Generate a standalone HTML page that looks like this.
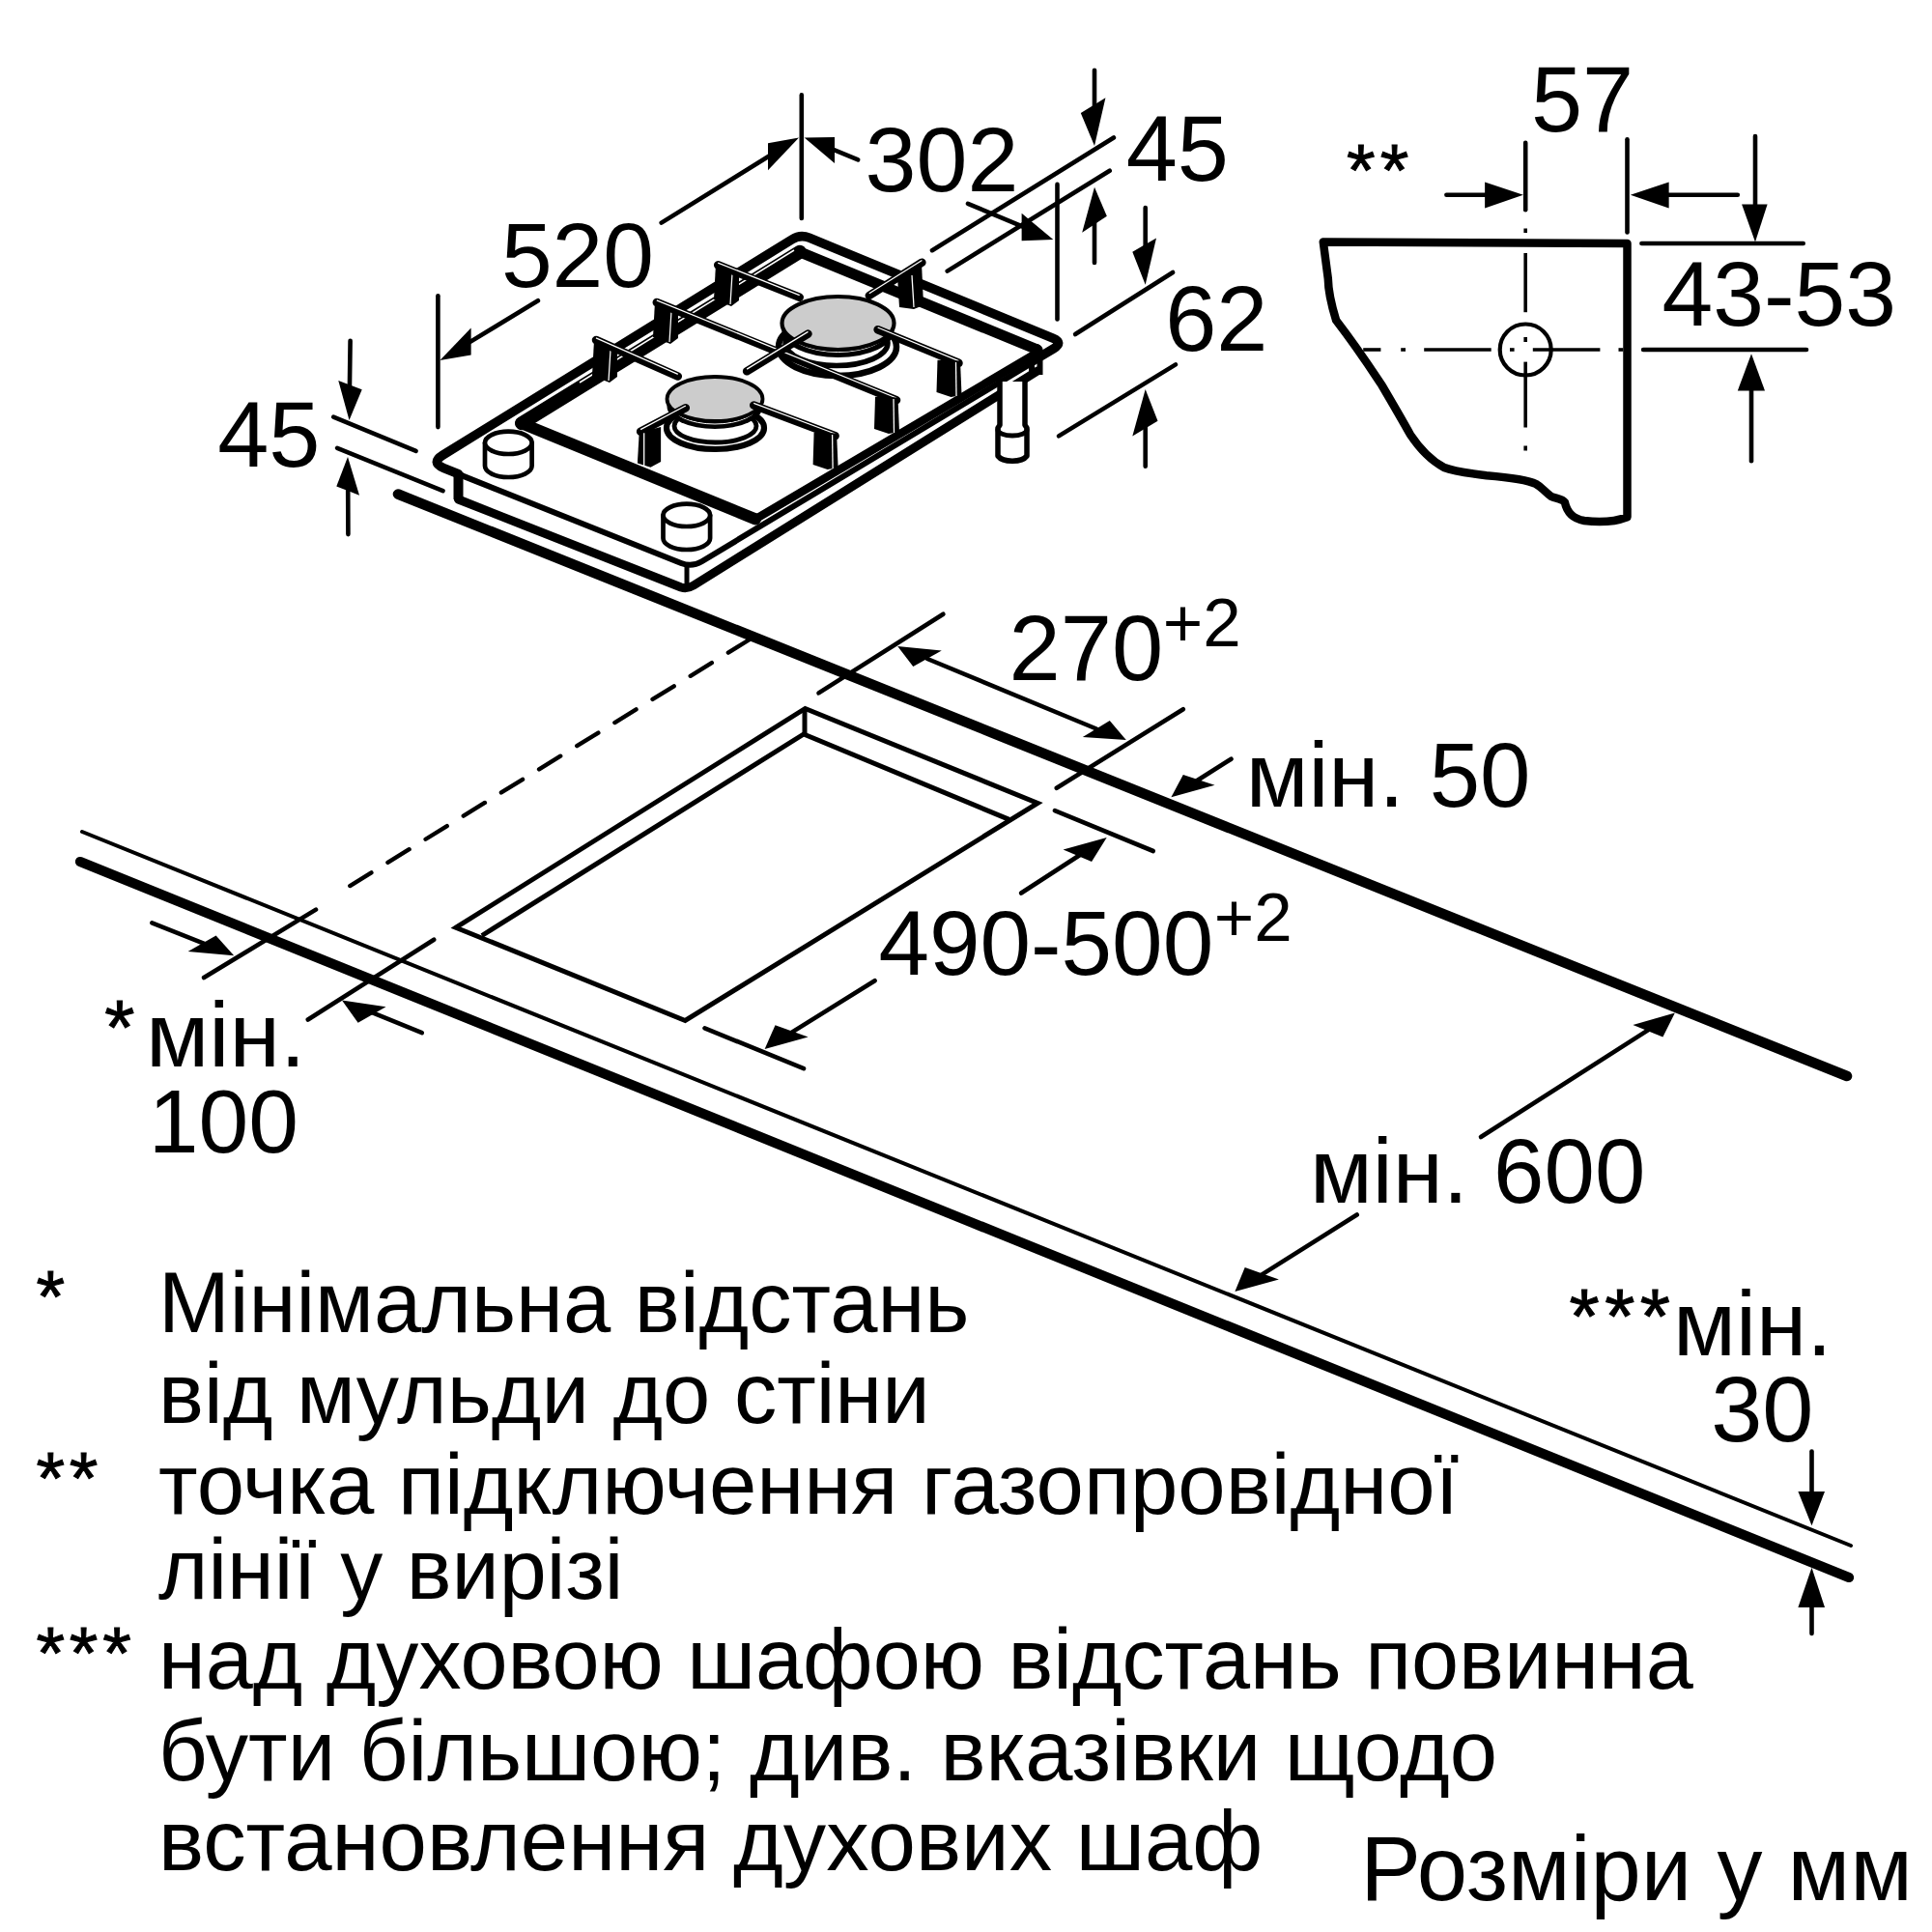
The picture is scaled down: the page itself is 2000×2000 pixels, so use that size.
<!DOCTYPE html>
<html><head><meta charset="utf-8"><style>
html,body{margin:0;padding:0;background:#fff;overflow:hidden;}
svg{display:block;}
text{font-family:"Liberation Sans",sans-serif;fill:#000;stroke:none;}
</style></head><body>
<svg xmlns="http://www.w3.org/2000/svg" width="2000" height="2000" viewBox="0 0 2000 2000" stroke="#000" fill="none">
<line x1="412.0" y1="511.5" x2="1912.0" y2="1114.0" stroke-width="10.6" stroke-linecap="round"/>
<line x1="85.0" y1="861.0" x2="1916.0" y2="1600.0" stroke-width="4.0" stroke-linecap="round"/>
<line x1="83.0" y1="892.0" x2="1914.0" y2="1633.0" stroke-width="10.2" stroke-linecap="round"/>
<text x="164.0" y="1379.2" font-size="88.59" text-anchor="start" >Мінімальна відстань</text>
<text x="164.0" y="1472.9" font-size="88.5" text-anchor="start" >від мульди до стіни</text>
<text x="164.0" y="1566.8" font-size="88.74" text-anchor="start" >точка підключення газопровідної</text>
<text x="164.0" y="1655.3" font-size="88.14" text-anchor="start" >лінії у вирізі</text>
<text x="164.0" y="1747.8" font-size="88.24" text-anchor="start" >над духовою шафою відстань повинна</text>
<text x="164.0" y="1842.7" font-size="88.6" text-anchor="start" >бути більшою; див. вказівки щодо</text>
<text x="164.0" y="1936.2" font-size="88.77" text-anchor="start" >встановлення духових шаф</text>
<text x="37.4" y="1367.7" font-size="76" text-anchor="start" style="stroke:#000;stroke-width:1px">*</text>
<text x="37.4" y="1555.8" font-size="76" text-anchor="start" letter-spacing="4.9" style="stroke:#000;stroke-width:1px">**</text>
<text x="37.4" y="1736.8" font-size="76" text-anchor="start" letter-spacing="4.9" style="stroke:#000;stroke-width:1px">***</text>
<text x="1408.2" y="1966.7" font-size="94" text-anchor="start" >Розміри у мм</text>
<text x="225.2" y="482.5" font-size="95.5" text-anchor="start" >45</text>
<line x1="362.6" y1="352.8" x2="361.9" y2="402.3" stroke-width="4.6" stroke-linecap="round"/>
<polygon points="361.5,435.0 350.3,394.0 374.7,403.3" fill="#000" stroke="none"/>
<line x1="345.2" y1="431.7" x2="430.6" y2="466.9" stroke-width="4.6" stroke-linecap="round"/>
<line x1="349.1" y1="463.8" x2="458.5" y2="508.1" stroke-width="4.6" stroke-linecap="round"/>
<line x1="360.4" y1="553.1" x2="360.2" y2="504.6" stroke-width="4.6" stroke-linecap="round"/>
<polygon points="360.0,473.1 348.3,503.4 372.0,512.7" fill="#000" stroke="none"/>
<line x1="453.4" y1="306.2" x2="453.4" y2="442.1" stroke-width="4.6" stroke-linecap="round"/>
<line x1="556.9" y1="311.2" x2="484.3" y2="355.4" stroke-width="4.6" stroke-linecap="round"/>
<polygon points="455.4,373.0 487.6,339.6 487.6,367.5" fill="#000" stroke="none"/>
<text x="518.9" y="296.9" font-size="94.8" text-anchor="start" >520</text>
<line x1="684.7" y1="230.6" x2="798.2" y2="160.3" stroke-width="4.6" stroke-linecap="round"/>
<polygon points="827.0,142.5 795.0,148.3 795.0,176.3" fill="#000" stroke="none"/>
<line x1="829.8" y1="98.4" x2="829.8" y2="225.9" stroke-width="4.6" stroke-linecap="round"/>
<line x1="888.2" y1="165.3" x2="860.9" y2="154.1" stroke-width="4.6" stroke-linecap="round"/>
<polygon points="832.7,142.5 864.0,142.0 864.0,169.0" fill="#000" stroke="none"/>
<text x="895.5" y="198.0" font-size="95.2" text-anchor="start" >302</text>
<line x1="1002.0" y1="210.8" x2="1061.2" y2="235.7" stroke-width="4.6" stroke-linecap="round"/>
<polygon points="1090.3,247.9 1057.6,220.8 1057.6,249.3" fill="#000" stroke="none"/>
<line x1="1094.5" y1="190.9" x2="1094.5" y2="330.4" stroke-width="4.6" stroke-linecap="round"/>
<line x1="1133.0" y1="72.8" x2="1133.0" y2="113.2" stroke-width="4.6" stroke-linecap="round"/>
<polygon points="1133.0,151.0 1118.8,116.9 1144.4,101.2" fill="#000" stroke="none"/>
<line x1="965.0" y1="259.2" x2="1152.9" y2="142.5" stroke-width="4.6" stroke-linecap="round"/>
<line x1="980.7" y1="280.6" x2="1148.7" y2="176.7" stroke-width="4.6" stroke-linecap="round"/>
<line x1="1133.0" y1="272.0" x2="1133.0" y2="228.4" stroke-width="4.6" stroke-linecap="round"/>
<polygon points="1133.0,193.8 1120.2,240.7 1145.8,223.7" fill="#000" stroke="none"/>
<text x="1165.7" y="186.6" font-size="95.5" text-anchor="start" >45</text>
<line x1="1185.7" y1="215.1" x2="1185.7" y2="257.7" stroke-width="4.6" stroke-linecap="round"/>
<polygon points="1185.7,294.8 1172.3,260.7 1197.0,246.4" fill="#000" stroke="none"/>
<line x1="1113.1" y1="346.0" x2="1214.1" y2="282.0" stroke-width="4.6" stroke-linecap="round"/>
<line x1="1096.0" y1="451.4" x2="1217.0" y2="377.4" stroke-width="4.6" stroke-linecap="round"/>
<line x1="1185.7" y1="482.7" x2="1185.7" y2="439.5" stroke-width="4.6" stroke-linecap="round"/>
<polygon points="1185.7,403.0 1172.3,451.4 1198.5,435.7" fill="#000" stroke="none"/>
<text x="1206.2" y="363.1" font-size="95.5" text-anchor="start" >62</text>
<text x="1585.0" y="136.1" font-size="95.5" text-anchor="start" >57</text>
<text x="1394.1" y="201.9" font-size="76" text-anchor="start" letter-spacing="5.1" style="stroke:#000;stroke-width:1px">**</text>
<path d="M1369.8,250.4 L1684.5,252 L1684.5,535.2 C1672,540 1655,541 1640,539 C1628,537 1622,530 1619.9,520 C1617,516 1610,516 1606,514 C1600,510 1597,505 1590,501 C1580,496 1560,494 1538.8,492.2 C1520,490 1505,488 1495,484 C1480,476 1470,465 1460,450 C1450,432 1440,415 1430,398 C1420,383 1405,360 1383.1,331.5 C1378,315 1375,300 1374.8,288.4 Z" fill="none" stroke-width="8.5" stroke-linejoin="round" stroke-linecap="round" />
<line x1="1579.2" y1="147.7" x2="1579.2" y2="217.2" stroke-width="4.6" stroke-linecap="round"/>
<line x1="1579.2" y1="236.5" x2="1579.2" y2="241.0" stroke-width="3.6" stroke-linecap="butt"/>
<line x1="1579.2" y1="262.0" x2="1579.2" y2="323.2" stroke-width="3.6" stroke-linecap="butt"/>
<line x1="1579.2" y1="349.0" x2="1579.2" y2="354.0" stroke-width="3.6" stroke-linecap="butt"/>
<line x1="1579.2" y1="374.6" x2="1579.2" y2="442.5" stroke-width="3.6" stroke-linecap="butt"/>
<line x1="1579.2" y1="461.5" x2="1579.2" y2="466.5" stroke-width="3.6" stroke-linecap="butt"/>
<line x1="1411.2" y1="362.0" x2="1429.4" y2="362.0" stroke-width="3.6" stroke-linecap="butt"/>
<line x1="1450.2" y1="362.0" x2="1455.0" y2="362.0" stroke-width="3.6" stroke-linecap="butt"/>
<line x1="1474.2" y1="362.0" x2="1543.7" y2="362.0" stroke-width="3.6" stroke-linecap="butt"/>
<line x1="1563.0" y1="362.0" x2="1567.6" y2="362.0" stroke-width="3.6" stroke-linecap="butt"/>
<line x1="1586.8" y1="362.0" x2="1656.4" y2="362.0" stroke-width="3.6" stroke-linecap="butt"/>
<line x1="1675.5" y1="362.0" x2="1680.3" y2="362.0" stroke-width="3.6" stroke-linecap="butt"/>
<ellipse cx="1579.2" cy="362.0" rx="26.5" ry="26.5" fill="none" stroke-width="4.2" />
<line x1="1684.5" y1="144.3" x2="1684.5" y2="240.4" stroke-width="4.6" stroke-linecap="round"/>
<line x1="1497.4" y1="201.7" x2="1541.1" y2="201.7" stroke-width="4.6" stroke-linecap="round"/>
<polygon points="1576.9,201.7 1537.1,188.4 1537.1,215.6" fill="#000" stroke="none"/>
<line x1="1798.8" y1="201.7" x2="1723.6" y2="201.7" stroke-width="4.6" stroke-linecap="round"/>
<polygon points="1687.8,201.7 1727.6,188.4 1727.6,215.6" fill="#000" stroke="none"/>
<line x1="1817.0" y1="141.0" x2="1817.0" y2="215.5" stroke-width="4.6" stroke-linecap="round"/>
<polygon points="1817.0,250.4 1803.1,211.6 1829.6,211.6" fill="#000" stroke="none"/>
<line x1="1699.4" y1="252.0" x2="1866.7" y2="252.0" stroke-width="4.6" stroke-linecap="round"/>
<line x1="1701.1" y1="362.0" x2="1870.0" y2="362.0" stroke-width="4.6" stroke-linecap="round"/>
<line x1="1813.0" y1="477.3" x2="1813.0" y2="400.6" stroke-width="4.6" stroke-linecap="round"/>
<polygon points="1813.0,366.3 1798.8,404.4 1827.0,404.4" fill="#000" stroke="none"/>
<text x="1720.6" y="336.5" font-size="94.8" text-anchor="start" >43-53</text>
<polygon points="472.0,960.2 833.5,733.5 1074.2,831.4 709.3,1056.5" fill="none" stroke-width="5" stroke-linejoin="miter" stroke-linecap="round"/>
<polyline points="498.9,968.5 832.0,760.0 1044.7,848.4" fill="none" stroke-width="5" stroke-linejoin="miter" stroke-linecap="butt"/>
<line x1="833.0" y1="733.5" x2="833.0" y2="760.0" stroke-width="5" stroke-linecap="butt"/>
<line x1="776" y1="662" x2="356" y2="920.9" stroke-width="4.4" stroke-dasharray="26,20" stroke-linecap="round"/>
<line x1="327.0" y1="941.6" x2="211.1" y2="1012.0" stroke-width="4.6" stroke-linecap="round"/>
<line x1="157.3" y1="955.3" x2="212.7" y2="977.4" stroke-width="4.6" stroke-linecap="round"/>
<polygon points="242.2,989.2 194.6,985.1 223.6,968.5" fill="#000" stroke="none"/>
<line x1="318.8" y1="1055.5" x2="449.2" y2="972.7" stroke-width="4.6" stroke-linecap="round"/>
<line x1="436.8" y1="1069.2" x2="382.7" y2="1047.2" stroke-width="4.6" stroke-linecap="round"/>
<polygon points="354.0,1035.6 370.6,1058.8 399.5,1042.2" fill="#000" stroke="none"/>
<text x="108.3" y="1090.7" font-size="80" text-anchor="start" style="stroke:#000;stroke-width:1px">*</text>
<text x="151.0" y="1103.7" font-size="95" text-anchor="start" >мін.</text>
<text x="153.8" y="1193.2" font-size="93" text-anchor="start" >100</text>
<line x1="847.5" y1="717.4" x2="976.4" y2="635.7" stroke-width="4.6" stroke-linecap="round"/>
<line x1="1093.8" y1="815.8" x2="1224.8" y2="734.2" stroke-width="4.6" stroke-linecap="round"/>
<polygon points="929.2,668.9 945.3,690.1 974.8,673.6" fill="#000" stroke="none"/>
<polygon points="1165.8,766.1 1120.8,763.0 1148.8,746.0" fill="#000" stroke="none"/>
<line x1="960.0" y1="682.0" x2="1135.0" y2="754.5" stroke-width="4.6" stroke-linecap="round"/>
<text x="1044.5" y="703.6" font-size="95.7" text-anchor="start" >270</text>
<text x="1203.7" y="668.7" font-size="71" text-anchor="start" >+2</text>
<line x1="1274.5" y1="785.7" x2="1238.1" y2="808.8" stroke-width="4.6" stroke-linecap="round"/>
<polygon points="1212.4,825.2 1224.8,801.9 1257.5,812.7" fill="#000" stroke="none"/>
<text x="1289.7" y="834.5" font-size="94.2" text-anchor="start" >мін. 50</text>
<line x1="1091.9" y1="839.1" x2="1193.8" y2="881.0" stroke-width="4.6" stroke-linecap="round"/>
<line x1="1057.1" y1="924.5" x2="1118.8" y2="884.5" stroke-width="4.6" stroke-linecap="round"/>
<polygon points="1145.7,867.1 1100.6,879.5 1130.1,891.9" fill="#000" stroke="none"/>
<line x1="729.5" y1="1064.3" x2="832.0" y2="1106.2" stroke-width="4.6" stroke-linecap="round"/>
<line x1="905.6" y1="1015.2" x2="817.3" y2="1070.1" stroke-width="4.6" stroke-linecap="round"/>
<polygon points="791.6,1086.0 802.5,1061.2 836.6,1073.6" fill="#000" stroke="none"/>
<text x="909.4" y="1008.6" font-size="94.5" text-anchor="start" >490-500</text>
<text x="1256.7" y="974.0" font-size="71" text-anchor="start" >+2</text>
<line x1="1533.0" y1="1177.0" x2="1708.4" y2="1064.9" stroke-width="4.6" stroke-linecap="round"/>
<polygon points="1733.9,1048.6 1690.4,1061.0 1721.4,1073.4" fill="#000" stroke="none"/>
<text x="1356.1" y="1244.8" font-size="94.2" text-anchor="start" >мін. 600</text>
<line x1="1404.7" y1="1257.5" x2="1304.0" y2="1320.9" stroke-width="4.6" stroke-linecap="round"/>
<polygon points="1278.4,1337.0 1288.7,1312.1 1323.9,1324.5" fill="#000" stroke="none"/>
<text x="1624.5" y="1390.4" font-size="80" text-anchor="start" letter-spacing="5.5" style="stroke:#000;stroke-width:1px">***</text>
<text x="1732.0" y="1403.2" font-size="94.5" text-anchor="start" >мін.</text>
<text x="1771.2" y="1492.2" font-size="95.5" text-anchor="start" >30</text>
<line x1="1875.5" y1="1502.6" x2="1875.5" y2="1547.5" stroke-width="4.6" stroke-linecap="round"/>
<polygon points="1875.5,1579.2 1861.4,1544.0 1889.0,1544.0" fill="#000" stroke="none"/>
<line x1="1875.5" y1="1691.0" x2="1875.5" y2="1659.9" stroke-width="4.6" stroke-linecap="round"/>
<polygon points="1875.5,1622.7 1861.4,1664.0 1889.0,1664.0" fill="#000" stroke="none"/>
<path d="M474.5,490.7 L459.5,484.6 Q445.6,479 458.4,471.1 L820.1,247.7 Q828.6,242.4 837.8,246.2 L1090,350.1 Q1101,354.7 1090.7,360.9 L1068,374.5" fill="none" stroke-width="9.5" stroke-linejoin="round" stroke-linecap="round" />
<path d="M474,490.6 L705.1,583 Q716.2,587.4 726.5,581.2 L1068,376" fill="none" stroke-width="6" stroke-linejoin="round" stroke-linecap="round" />
<line x1="474.5" y1="489.0" x2="474.5" y2="517.0" stroke-width="10" stroke-linecap="butt"/>
<path d="M474.5,517 L705,608 Q711.5,610 718,606 L1074,384" fill="none" stroke-width="9" stroke-linejoin="round" stroke-linecap="round" />
<line x1="711.0" y1="585.0" x2="711.0" y2="607.0" stroke-width="5" stroke-linecap="butt"/>
<line x1="1068.0" y1="372.0" x2="1068.0" y2="388.0" stroke-width="6" stroke-linecap="butt"/>
<line x1="1076.5" y1="373.0" x2="1076.5" y2="388.0" stroke-width="6" stroke-linecap="butt"/>
<path d="M540,438.2 L782,537.4" fill="none" stroke-width="12" stroke-linejoin="round" stroke-linecap="round" />
<path d="M540,438.2 L828,260.8" fill="none" stroke-width="14" stroke-linejoin="round" stroke-linecap="round" />
<path d="M828,260.8 L1074,362" fill="none" stroke-width="11" stroke-linejoin="round" stroke-linecap="round" />
<path d="M782,537.4 L1074,365" fill="none" stroke-width="8.5" stroke-linejoin="round" stroke-linecap="round" />
<circle cx="540" cy="438.2" r="6.5" fill="#000" stroke="none"/>
<circle cx="828" cy="261" r="6.5" fill="#000" stroke="none"/>
<circle cx="1073" cy="361" r="5" fill="#000" stroke="none"/>
<circle cx="782" cy="537" r="5.5" fill="#000" stroke="none"/>
<line x1="600" y1="396" x2="822" y2="259" stroke="#fff" stroke-width="1.5"/>
<path d="M501.99999999999994,458.3 L501.99999999999994,482.3 A24.3,11.7 0 0 0 550.5999999999999,482.3 L550.5999999999999,458.3" fill="#fff" stroke-width="4.7" stroke-linejoin="round" stroke-linecap="round" />
<ellipse cx="526.3" cy="458.3" rx="24.3" ry="11.7" fill="#fff" stroke-width="4.7" />
<path d="M686.5,533.3 L686.5,557.3 A24.3,11.7 0 0 0 735.0999999999999,557.3 L735.0999999999999,533.3" fill="#fff" stroke-width="4.7" stroke-linejoin="round" stroke-linecap="round" />
<ellipse cx="710.8" cy="533.3" rx="24.3" ry="11.7" fill="#fff" stroke-width="4.7" />
<ellipse cx="867.0" cy="359.0" rx="61.0" ry="30.0" fill="#fff" stroke-width="6.5" />
<ellipse cx="866.0" cy="355.0" rx="53.0" ry="23.5" fill="#fff" stroke-width="5.5" />
<ellipse cx="867.5" cy="342.5" rx="58.0" ry="27.5" fill="#000" stroke-width="0" />
<ellipse cx="867.5" cy="339" rx="54" ry="25.5" fill="none" stroke="#fff" stroke-width="1"/>
<ellipse cx="867.5" cy="334.5" rx="58.0" ry="27.5" fill="#ccc" stroke-width="4.2" />
<ellipse cx="740.5" cy="443.0" rx="50.5" ry="22.0" fill="#fff" stroke-width="6.2" />
<ellipse cx="740.5" cy="441.0" rx="42.5" ry="17.0" fill="#fff" stroke-width="4.8" />
<ellipse cx="740.0" cy="421.0" rx="49.5" ry="23.0" fill="#000" stroke-width="0" />
<ellipse cx="740" cy="418.0" rx="45.5" ry="21" fill="none" stroke="#fff" stroke-width="1"/>
<ellipse cx="740.0" cy="413.0" rx="49.5" ry="23.0" fill="#ccc" stroke-width="3.8" />
<polygon points="615.0,352.0 639.0,361.0 639.0,390.0 631.0,396.0 613.0,389.0" fill="#000" stroke="none"/>
<line x1="632" y1="362" x2="630" y2="394" stroke="#fff" stroke-width="1.3"/>
<polygon points="678.0,312.0 702.0,321.0 702.0,350.0 694.0,356.0 676.0,349.0" fill="#000" stroke="none"/>
<line x1="695" y1="322" x2="693" y2="354" stroke="#fff" stroke-width="1.3"/>
<polygon points="741.0,273.0 765.0,282.0 765.0,311.0 757.0,317.0 739.0,310.0" fill="#000" stroke="none"/>
<line x1="758" y1="283" x2="756" y2="315" stroke="#fff" stroke-width="1.3"/>
<polyline points="617.0,352.0 701.8,389.6" fill="none" stroke-width="8.5" stroke-linejoin="round" stroke-linecap="round"/>
<polyline points="617.0,349.8 701.8,387.4" fill="none" stroke-width="1.3" stroke-linejoin="round" stroke-linecap="butt" stroke="#fff"/>
<polyline points="679.8,313.0 928.0,414.2" fill="none" stroke-width="8.5" stroke-linejoin="round" stroke-linecap="round"/>
<polyline points="679.8,310.8 928.0,412.0" fill="none" stroke-width="1.3" stroke-linejoin="round" stroke-linecap="butt" stroke="#fff"/>
<polyline points="743.2,274.3 827.7,307.8" fill="none" stroke-width="8.5" stroke-linejoin="round" stroke-linecap="round"/>
<polyline points="743.2,272.1 827.7,305.6" fill="none" stroke-width="1.3" stroke-linejoin="round" stroke-linecap="butt" stroke="#fff"/>
<polygon points="954.0,272.0 956.0,316.0 946.0,320.0 931.0,318.0 929.0,286.0" fill="#000" stroke="none"/>
<line x1="944" y1="285" x2="946" y2="318" stroke="#fff" stroke-width="1.3"/>
<polyline points="954.4,271.7 899.8,306.0" fill="none" stroke-width="8.5" stroke-linejoin="round" stroke-linecap="round"/>
<polyline points="954.4,269.5 899.8,303.8" fill="none" stroke-width="1.3" stroke-linejoin="round" stroke-linecap="butt" stroke="#fff"/>
<polyline points="836.5,345.6 773.1,384.3" fill="none" stroke-width="8.5" stroke-linejoin="round" stroke-linecap="round"/>
<polyline points="836.5,343.4 773.1,382.1" fill="none" stroke-width="1.3" stroke-linejoin="round" stroke-linecap="butt" stroke="#fff"/>
<polyline points="908.6,341.2 992.5,375.8" fill="none" stroke-width="8.5" stroke-linejoin="round" stroke-linecap="round"/>
<polyline points="908.6,339.0 992.5,373.6" fill="none" stroke-width="1.3" stroke-linejoin="round" stroke-linecap="butt" stroke="#fff"/>
<polyline points="780.2,419.5 864.6,451.2" fill="none" stroke-width="8.5" stroke-linejoin="round" stroke-linecap="round"/>
<polyline points="780.2,417.3 864.6,449.0" fill="none" stroke-width="1.3" stroke-linejoin="round" stroke-linecap="butt" stroke="#fff"/>
<polyline points="709.8,422.2 663.1,446.8" fill="none" stroke-width="8.5" stroke-linejoin="round" stroke-linecap="round"/>
<polyline points="709.8,420.0 663.1,444.6" fill="none" stroke-width="1.3" stroke-linejoin="round" stroke-linecap="butt" stroke="#fff"/>
<polygon points="906.0,410.8 929.5,411.5 931.0,447.0 920.0,449.0 905.0,444.0" fill="#000" stroke="none"/>
<line x1="925" y1="413" x2="925.5" y2="448" stroke="#fff" stroke-width="1.3"/>
<polygon points="970.5,372.8 994.0,373.5 995.5,409.0 984.5,411.0 969.5,406.0" fill="#000" stroke="none"/>
<line x1="989.5" y1="375" x2="990.0" y2="410" stroke="#fff" stroke-width="1.3"/>
<polygon points="842.6,447.8 866.1,448.5 867.6,484.0 856.6,486.0 841.6,481.0" fill="#000" stroke="none"/>
<line x1="861.6" y1="450" x2="862.1" y2="485" stroke="#fff" stroke-width="1.3"/>
<polygon points="661.7,447.7 684.1,442.1 684.1,478.1 673.5,483.7 659.9,479.4" fill="#000" stroke="none"/>
<line x1="666.7" y1="448.3" x2="666.7" y2="482.5" stroke="#fff" stroke-width="1.3"/>
<path d="M1035,395 L1035,440 L1033,443 L1033,472 A16,8 0 0 0 1063,472 L1063,443 L1061,440 L1061,395" fill="#fff" stroke-width="5.5" stroke-linejoin="round" stroke-linecap="round" />
<path d="M1033,445 A15,6 0 0 0 1063,445" fill="none" stroke-width="5" stroke-linejoin="round" stroke-linecap="round" />
</svg></body></html>
